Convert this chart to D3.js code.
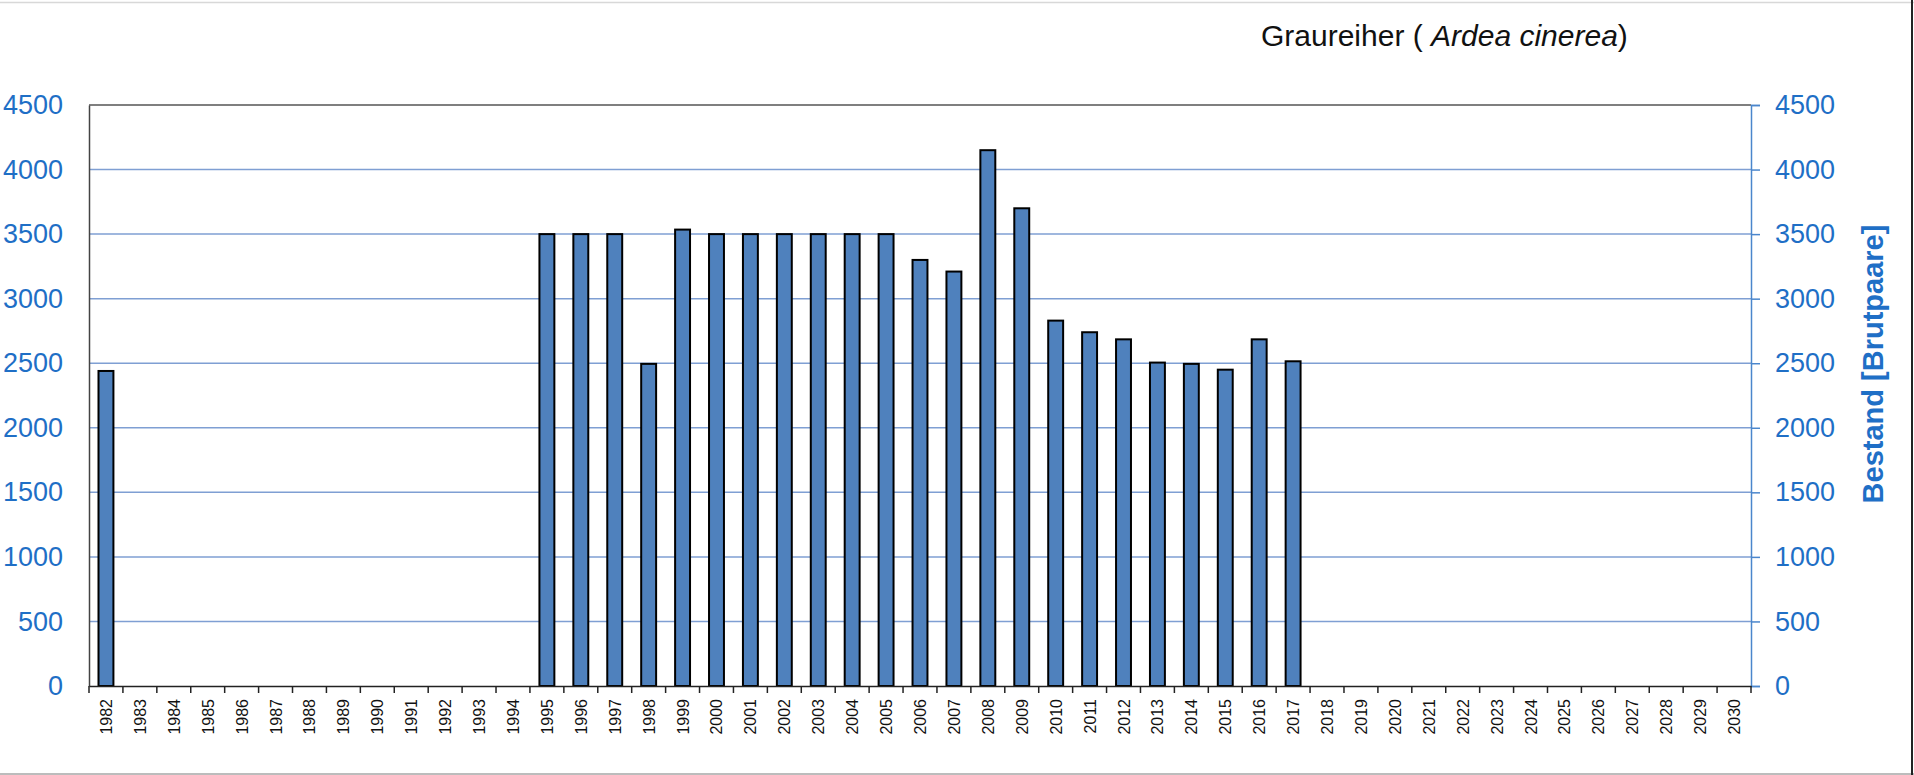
<!DOCTYPE html>
<html>
<head>
<meta charset="utf-8">
<script src="https://cdn.jsdelivr.net/npm/d3@7"></script>
<style>
  body { margin: 0; background: #fff; }
  svg { display: block; font-family: "Liberation Sans", Arial, sans-serif; }
</style>
</head>
<body>
<svg width="1914" height="775"></svg>
<script>
// Daten: Graureiher Brutpaare
var jahre = d3.range(1982, 2031);
var bestandJahre = [1982, 1995, 1996, 1997, 1998, 1999, 2000, 2001, 2002, 2003, 2004, 2005,
                    2006, 2007, 2008, 2009, 2010, 2011, 2012, 2013, 2014, 2015, 2016, 2017];
var bestandWerte = [2440, 3500, 3500, 3500, 2495, 3535, 3500, 3500, 3500, 3500, 3500, 3500,
                    3300, 3210, 4150, 3700, 2830, 2740, 2685, 2505, 2495, 2450, 2685, 2515];
var yTicks = [0, 500, 1000, 1500, 2000, 2500, 3000, 3500, 4000, 4500];

var blau = "#1f6fc6";

var svg = d3.select("svg"),
    links = 89, rechts = 1751, oben = 105, unten = 686;

// rahmen
svg.append("line").attr("x1", 0).attr("x2", 1914).attr("y1", 2.5).attr("y2", 2.5)
  .attr("stroke", "#d8d8d8").attr("stroke-width", 1.5);
svg.append("line").attr("x1", 0).attr("x2", 1914).attr("y1", 774).attr("y2", 774)
  .attr("stroke", "#bcbcbc").attr("stroke-width", 2);
svg.append("line").attr("x1", 1912).attr("x2", 1912).attr("y1", 0).attr("y2", 775)
  .attr("stroke", "#222").attr("stroke-width", 2);

var x = d3.scaleBand().domain(jahre).range([links, rechts]).paddingInner(0).paddingOuter(0);
var y = d3.scaleLinear().domain([0, 4500]).range([unten, oben]);

// gitterlinien
svg.append("g").selectAll("line")
  .data(yTicks.filter(function(d){ return d > 0 && d < 4500; }))
  .enter().append("line")
  .attr("x1", links).attr("x2", rechts)
  .attr("y1", function(d){ return y(d); }).attr("y2", function(d){ return y(d); })
  .attr("stroke", "#7f9fd3").attr("stroke-width", 1.5);

// obere linie
svg.append("line").attr("x1", links).attr("x2", rechts).attr("y1", oben).attr("y2", oben)
  .attr("stroke", "#555").attr("stroke-width", 1.5);

// balken
var bw = x.bandwidth() * 0.44;
svg.append("g").selectAll("rect")
  .data(bestandJahre.map(function(j, i){ return { jahr: j, wert: bestandWerte[i] }; }))
  .enter().append("rect")
  .attr("x", function(d){ return x(d.jahr) + (x.bandwidth() - bw) / 2; })
  .attr("y", function(d){ return y(d.wert); })
  .attr("width", bw)
  .attr("height", function(d){ return y(0) - y(d.wert); })
  .attr("fill", "#4f81bd")
  .attr("stroke", "#000").attr("stroke-width", 2);

// linke achse
var yLinks = svg.append("g").attr("transform", "translate(" + links + ",0)")
  .call(d3.axisLeft(y).tickValues(yTicks).tickSize(0).tickPadding(26).tickFormat(d3.format("d")));
yLinks.select(".domain").attr("stroke", "#444").attr("stroke-width", 1.5);
yLinks.selectAll("text").attr("fill", blau).attr("font-size", 27).attr("font-family", "Liberation Sans, Arial");

// rechte achse
var yRechts = svg.append("g").attr("transform", "translate(" + rechts + ",0)")
  .call(d3.axisRight(y).tickValues(yTicks).tickSize(9).tickPadding(15).tickFormat(d3.format("d")));
yRechts.select(".domain").attr("stroke", "#4a86cc").attr("stroke-width", 1.5);
yRechts.selectAll("line").attr("stroke", "#4a86cc").attr("stroke-width", 1.5);
yRechts.selectAll("text").attr("fill", blau).attr("font-size", 27).attr("font-family", "Liberation Sans, Arial");

// x achse
var xAchse = svg.append("g").attr("transform", "translate(0," + unten + ")")
  .call(d3.axisBottom(x).tickSize(0).tickFormat(""));
xAchse.select(".domain").attr("stroke", "#222").attr("stroke-width", 1.5);
svg.append("g").selectAll("line")
  .data(jahre.concat([2031]))
  .enter().append("line")
  .attr("x1", function(d){ return d === 2031 ? rechts : x(d); })
  .attr("x2", function(d){ return d === 2031 ? rechts : x(d); })
  .attr("y1", unten).attr("y2", unten + 7)
  .attr("stroke", "#222").attr("stroke-width", 1.5);
svg.append("g").selectAll("text")
  .data(jahre)
  .enter().append("text")
  .attr("transform", function(d){
    return "translate(" + (x(d) + x.bandwidth() / 2 + 6) + "," + (unten + 13) + ") rotate(-90)";
  })
  .attr("text-anchor", "end")
  .attr("font-size", 16)
  .attr("fill", "#111")
  .text(function(d){ return d; });

// titel
var titel = svg.append("text").attr("x", 1261).attr("y", 46).attr("font-size", 30).attr("fill", "#111");
titel.append("tspan").text("Graureiher ( ");
titel.append("tspan").attr("font-style", "italic").text("Ardea cinerea");
titel.append("tspan").text(")");

// achsentitel rechts
svg.append("text")
  .attr("transform", "translate(1883,364) rotate(-90)")
  .attr("text-anchor", "middle")
  .attr("font-size", 29)
  .attr("font-weight", "bold")
  .attr("fill", blau)
  .text("Bestand [Brutpaare]");
</script>
</body>
</html>
